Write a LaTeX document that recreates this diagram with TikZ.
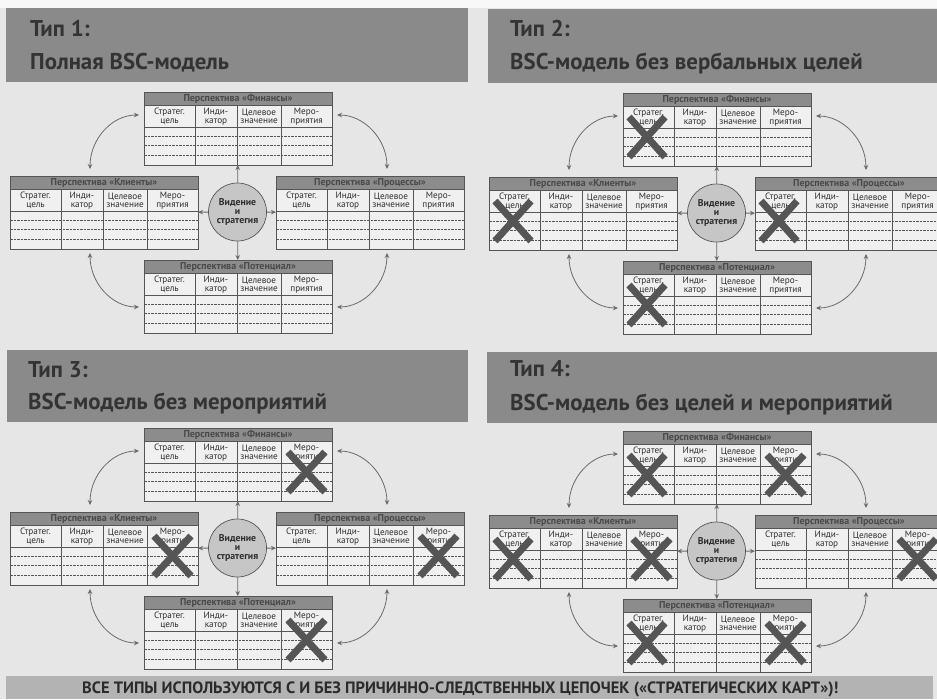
\documentclass[tikz,border=0pt]{standalone}
\usepackage{fontspec}
\setmainfont{PT Sans}
\usetikzlibrary{arrows.meta}
\definecolor{bgc}{HTML}{E6E6E6}
\definecolor{topc}{HTML}{F8F8F8}
\definecolor{bandc}{HTML}{8A8A8A}
\definecolor{bandtxt}{HTML}{333333}
\definecolor{barc}{HTML}{8C8C8C}
\definecolor{bartxt}{HTML}{4A4A4A}
\definecolor{tabfill}{HTML}{F0F0F0}
\definecolor{rulec}{HTML}{555555}
\definecolor{txtc}{HTML}{2E2E2E}
\definecolor{xc}{HTML}{555555}
\definecolor{circc}{HTML}{C6C6C6}
\definecolor{arrc}{HTML}{6A6A6A}
\definecolor{footc}{HTML}{B3B3B3}
\definecolor{foottxt}{HTML}{2B2B2B}
\tikzset{
  tabbox/.style={rectangle, anchor=north west, minimum width=188pt, minimum height=73pt,
    inner sep=0pt, outer sep=0pt, fill=tabfill},
  tabtitle/.style={inner sep=0pt, text=bartxt, font=\bfseries\fontsize{10}{10}\selectfont},
  colhead/.style={inner sep=0pt, align=center, text=txtc, font=\fontsize{9.2}{8.4}\selectfont},
  tabrule/.style={draw=rulec, line width=0.6pt},
  dashrule/.style={draw=rulec, line width=0.5pt, dash pattern=on 2.5pt off 1pt},
  xmark/.style={draw=xc, line width=7pt},
  vision/.style={circle, minimum size=58pt, inner sep=0pt, fill=circc, draw=rulec,
    line width=0.7pt, align=center, text=txtc, font=\bfseries\fontsize{9.8}{9}\selectfont},
  carrow/.style={draw=arrc, line width=0.8pt, -{Stealth[length=5pt,width=4.5pt]}},
  curvarrow/.style={draw=arrc, line width=0.8pt, {Stealth[length=5pt,width=4.5pt]}-{Stealth[length=5pt,width=4.5pt]}},
  hdtext/.style={inner sep=0pt, anchor=base west, text=bandtxt, font=\bfseries\fontsize{22.8}{24}\selectfont},
  foottext/.style={inner sep=0pt, anchor=base west, text=foottxt, font=\bfseries\fontsize{16.4}{18}\selectfont}
}
% #1 name, #2 position, #3 title, #4 crosses (1 = first column, 2 = last column, 3 = both)
\newcommand\bsctab[4]{%
  \begin{scope}[shift={#2}]
    \node[tabbox] (#1) at (0,0) {};
    \fill[barc] (0,0) rectangle (188,13);
    \node[tabtitle] (#1-t) at (94,6.8) {#3};
    \draw[tabrule] (0,13) -- (188,13) (0,35) -- (188,35);
    \draw[tabrule] (51,13) -- (51,73) (93,13) -- (93,73) (137,13) -- (137,73);
    \draw[dashrule] (0,44) -- (188,44) (0,53.5) -- (188,53.5) (0,63.5) -- (188,63.5);
    \node[colhead] (#1-c1) at (25.5,24.5) {Стратег.\\цель};
    \node[colhead] (#1-c2) at (72,24.5) {Инди-\\катор};
    \node[colhead] (#1-c3) at (115,24.5) {Целевое\\значение};
    \node[colhead] (#1-c4) at (162.5,24.5) {Меро-\\приятия};
    \draw[tabrule] (0,0) rectangle (188,73);
    \ifodd#4\relax \draw[xmark] (6,24) -- (42,64) (42,24) -- (6,64);\fi
    \ifnum#4>1\relax \draw[xmark] (144,24) -- (181,64) (181,24) -- (144,64);\fi
  \end{scope}}
% #1 prefix, #2 offset, #3..#6 crosses for top, left, right, bottom tables
\newcommand\bscpanel[6]{%
  \begin{scope}[shift={#2}]
    \bsctab{#1T}{(144,92)}{Перспектива «Финансы»}{#3}
    \bsctab{#1L}{(10,176)}{Перспектива «Клиенты»}{#4}
    \bsctab{#1R}{(276,176)}{Перспектива «Процессы»}{#5}
    \bsctab{#1B}{(144,260)}{Перспектива «Потенциал»}{#6}
    \node[vision] (#1C) at (237.5,212) {Видение\\и\\стратегия};
    \draw[carrow] (#1C) -- (#1T);
    \draw[carrow] (#1C) -- (#1B);
    \draw[carrow] (#1C) -- (#1L);
    \draw[carrow] (#1C) -- (#1R);
    \draw[curvarrow] ([shift={(80,-7)}]#1L.north west) .. controls +(0,-30) and +(-27,0) .. ([shift={(-5,23)}]#1T.north west);
    \draw[curvarrow] ([shift={(5,23)}]#1T.north east) .. controls +(27,0) and +(0,-30) .. ([shift={(111,-7)}]#1R.north west);
    \draw[curvarrow] ([shift={(80,4)}]#1L.south west) .. controls +(0,30) and +(-27,0) .. ([shift={(-5,47)}]#1B.north west);
    \draw[curvarrow] ([shift={(5,47)}]#1B.north east) .. controls +(27,0) and +(0,30) .. ([shift={(111,4)}]#1R.south west);
  \end{scope}}
\begin{document}
\begin{tikzpicture}[x=1pt,y=-1pt]
\useasboundingbox (0,0) rectangle (937,699);
\clip (0,0) rectangle (937,699);
\fill[bgc] (0,0) rectangle (937,699);
\fill[topc] (0,0) rectangle (937,8);
% header bands
\fill[bandc] (6,8) rectangle (468,82);
\fill[bandc] (488,9) rectangle (937,83);
\fill[bandc] (7,350) rectangle (468,422);
\fill[bandc] (487,352) rectangle (937,423);
\node[hdtext] (h1a) at (30,36) {Тип 1:};
\node[hdtext] (h1b) at (30,69) {Полная BSC-модель};
\node[hdtext] (h2a) at (510,36) {Тип 2:};
\node[hdtext] (h2b) at (510,69) {BSC-модель без вербальных целей};
\node[hdtext] (h3a) at (28,377) {Тип 3:};
\node[hdtext] (h3b) at (28,409) {BSC-модель без мероприятий};
\node[hdtext] (h4a) at (510,376) {Тип 4:};
\node[hdtext] (h4b) at (510,410) {BSC-модель без целей и мероприятий};
% panels
\bscpanel{pa}{(0,0)}{0}{0}{0}{0}
\bscpanel{pb}{(479,1)}{1}{1}{1}{1}
\bscpanel{pc}{(0,336)}{2}{2}{2}{2}
\bscpanel{pd}{(479,339)}{3}{3}{2}{3}
% footer
\fill[footc] (6,676) rectangle (933,699);
\node[foottext] (ft) at (82,693) {ВСЕ ТИПЫ ИСПОЛЬЗУЮТСЯ С И БЕЗ ПРИЧИННО-СЛЕДСТВЕННЫХ ЦЕПОЧЕК («СТРАТЕГИЧЕСКИХ КАРТ»)!};
\end{tikzpicture}
\end{document}
